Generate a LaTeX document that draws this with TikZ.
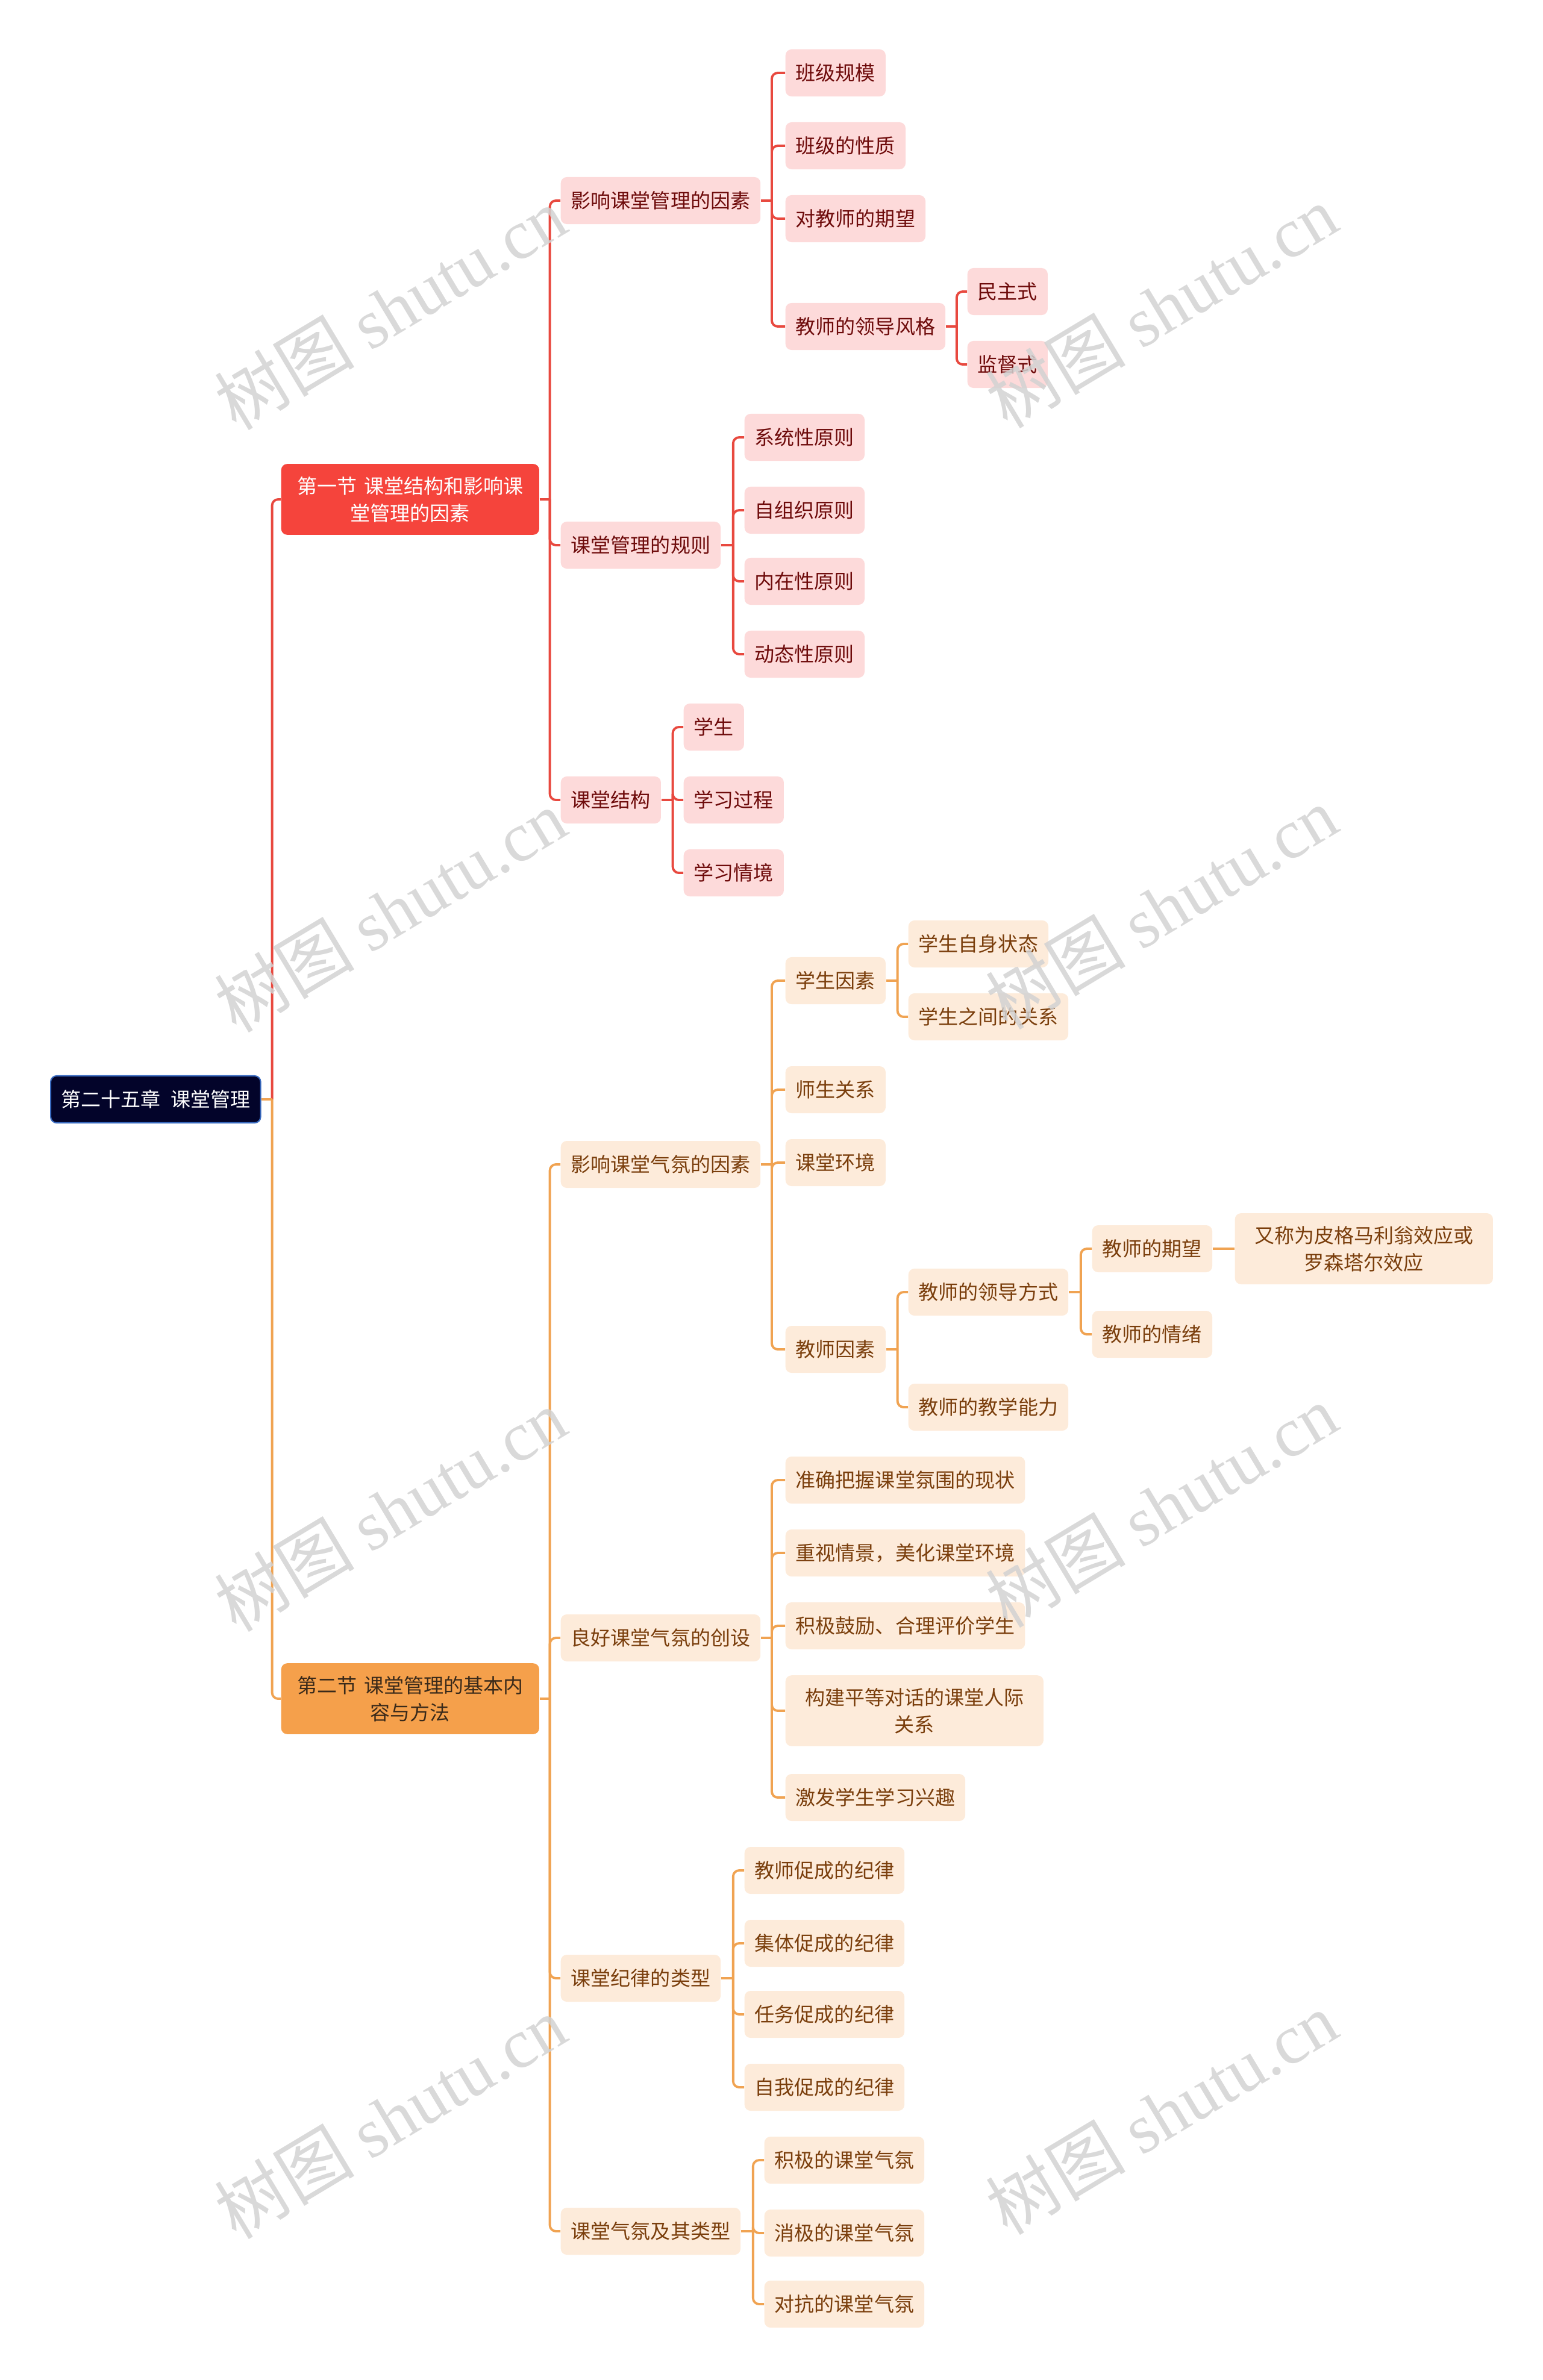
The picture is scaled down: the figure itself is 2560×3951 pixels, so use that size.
\documentclass[tikz,border=0pt]{standalone}
\usepackage{fontspec}
\setmainfont{Noto Sans CJK SC}
\newfontfamily\wmlatin{Liberation Serif}
\definecolor{rootfill}{HTML}{03042A}
\definecolor{rootdraw}{HTML}{3A6CC2}
\definecolor{redsec}{HTML}{F5443C}
\definecolor{redline}{HTML}{E8493F}
\definecolor{redleaf}{HTML}{FDDADA}
\definecolor{redtext}{HTML}{6E0B0B}
\definecolor{orsec}{HTML}{F5A04B}
\definecolor{orline}{HTML}{F0A352}
\definecolor{orleaf}{HTML}{FDEBDA}
\definecolor{ortext}{HTML}{7A3E0C}
\definecolor{sectext}{HTML}{3A2A1A}
\definecolor{wmgrey}{HTML}{D2D2D2}
\tikzset{
  bubble/.style={rounded corners=0.1cm, inner xsep=0.17cm, inner ysep=0.21cm,
    minimum height=0.78cm, anchor=west, font=\fontsize{9.4pt}{12.8pt}\selectfont},
  wrap/.style={text width=3.94cm, align=center},
  rleaf/.style={bubble, fill=redleaf, text=redtext},
  oleaf/.style={bubble, fill=orleaf, text=ortext},
  rootbox/.style={bubble, fill=rootfill, draw=rootdraw, line width=0.6pt, text=white},
  rsec/.style={bubble, wrap, fill=redsec, text=white},
  osec/.style={bubble, wrap, fill=orsec, text=sectext},
  rline/.style={draw=redline, line width=1.1pt, rounded corners=0.1cm},
  oline/.style={draw=orline, line width=1.1pt, rounded corners=0.1cm},
  wmark/.style={text=wmgrey, text opacity=0.85, rotate=31, inner sep=0pt,
    font=\fontsize{33pt}{33pt}\selectfont}
}
\begin{document}
\begin{tikzpicture}[x=0.01cm, y=-0.01cm]
\useasboundingbox (0,0) rectangle (2560,3951);
% root and sections
\node[rootbox] (root) at (83,1825) {第二十五章\hspace{0.17cm}课堂管理};
\node[rsec] (s1) at (466,829) {第一节\hspace{0.12cm}课堂结构和影响课\\堂管理的因素};
\node[osec] (s2) at (466,2820) {第二节\hspace{0.12cm}课堂管理的基本内\\容与方法};
% first section
\node[rleaf] (f1) at (930,333) {影响课堂管理的因素};
\node[rleaf] (f2) at (930,905) {课堂管理的规则};
\node[rleaf] (f3) at (930,1328) {课堂结构};
\node[rleaf] (f1a) at (1303,121) {班级规模};
\node[rleaf] (f1b) at (1303,242) {班级的性质};
\node[rleaf] (f1c) at (1303,363) {对教师的期望};
\node[rleaf] (f1d) at (1303,542) {教师的领导风格};
\node[rleaf] (f1d1) at (1605,484) {民主式};
\node[rleaf] (f1d2) at (1605,605) {监督式};
\node[rleaf] (f2a) at (1235,726) {系统性原则};
\node[rleaf] (f2b) at (1235,847) {自组织原则};
\node[rleaf] (f2c) at (1235,965) {内在性原则};
\node[rleaf] (f2d) at (1235,1086) {动态性原则};
\node[rleaf] (f3a) at (1134,1207) {学生};
\node[rleaf] (f3b) at (1134,1328) {学习过程};
\node[rleaf] (f3c) at (1134,1449) {学习情境};
% second section
\node[oleaf] (g1) at (930,1933) {影响课堂气氛的因素};
\node[oleaf] (g2) at (930,2719) {良好课堂气氛的创设};
\node[oleaf] (g3) at (930,3284) {课堂纪律的类型};
\node[oleaf] (g4) at (930,3704) {课堂气氛及其类型};
\node[oleaf] (g1a) at (1303,1628) {学生因素};
\node[oleaf] (g1a1) at (1507,1567) {学生自身状态};
\node[oleaf] (g1a2) at (1507,1688) {学生之间的关系};
\node[oleaf] (g1b) at (1303,1809) {师生关系};
\node[oleaf] (g1c) at (1303,1930) {课堂环境};
\node[oleaf] (g1d) at (1303,2240) {教师因素};
\node[oleaf] (g1d1) at (1507,2145) {教师的领导方式};
\node[oleaf] (g1d1a) at (1812,2073) {教师的期望};
\node[oleaf, wrap] (g1d1x) at (2049,2073) {又称为皮格马利翁效应或\\罗森塔尔效应};
\node[oleaf] (g1d1b) at (1812,2215) {教师的情绪};
\node[oleaf] (g1d2) at (1507,2336) {教师的教学能力};
\node[oleaf] (g2a) at (1303,2457) {准确把握课堂氛围的现状};
\node[oleaf] (g2b) at (1303,2578) {重视情景，美化课堂环境};
\node[oleaf] (g2c) at (1303,2699) {积极鼓励、合理评价学生};
\node[oleaf, wrap] (g2d) at (1303,2840) {构建平等对话的课堂人际\\关系};
\node[oleaf] (g2e) at (1303,2984) {激发学生学习兴趣};
\node[oleaf] (g3a) at (1235,3105) {教师促成的纪律};
\node[oleaf] (g3b) at (1235,3226) {集体促成的纪律};
\node[oleaf] (g3c) at (1235,3344) {任务促成的纪律};
\node[oleaf] (g3d) at (1235,3465) {自我促成的纪律};
\node[oleaf] (g4a) at (1268,3586) {积极的课堂气氛};
\node[oleaf] (g4b) at (1268,3707) {消极的课堂气氛};
\node[oleaf] (g4c) at (1268,3825) {对抗的课堂气氛};
% connectors, red side
\draw[rline] (root.east) -- ++(18,0) coordinate (rj);
\draw[rline] (rj) |- (s1.west);
\draw[rline] (s1.east) -- ++(17,0) coordinate (s1j);
\draw[rline] (s1j) |- (f1.west);
\draw[rline] (s1j) |- (f2.west);
\draw[rline] (s1j) |- (f3.west);
\draw[rline] (f1.east) -- ++(18,0) coordinate (f1j);
\draw[rline] (f1j) |- (f1a.west);
\draw[rline] (f1j) |- (f1b.west);
\draw[rline] (f1j) |- (f1c.west);
\draw[rline] (f1j) |- (f1d.west);
\draw[rline] (f1d.east) -- ++(18,0) coordinate (f1dj);
\draw[rline] (f1dj) |- (f1d1.west);
\draw[rline] (f1dj) |- (f1d2.west);
\draw[rline] (f2.east) -- ++(20,0) coordinate (f2j);
\draw[rline] (f2j) |- (f2a.west);
\draw[rline] (f2j) |- (f2b.west);
\draw[rline] (f2j) |- (f2c.west);
\draw[rline] (f2j) |- (f2d.west);
\draw[rline] (f3.east) -- ++(19,0) coordinate (f3j);
\draw[rline] (f3j) |- (f3a.west);
\draw[rline] (f3j) |- (f3b.west);
\draw[rline] (f3j) |- (f3c.west);
% connectors, orange side
\draw[oline] (rj) |- (s2.west);
\draw[oline] (root.east) -- (rj);
\draw[oline] (s2.east) -- ++(17,0) coordinate (s2j);
\draw[oline] (s2j) |- (g1.west);
\draw[oline] (s2j) |- (g2.west);
\draw[oline] (s2j) |- (g3.west);
\draw[oline] (s2j) |- (g4.west);
\draw[oline] (g1.east) -- ++(18,0) coordinate (g1j);
\draw[oline] (g1j) |- (g1a.west);
\draw[oline] (g1j) |- (g1b.west);
\draw[oline] (g1j) |- (g1c.west);
\draw[oline] (g1j) |- (g1d.west);
\draw[oline] (g1a.east) -- ++(19,0) coordinate (g1aj);
\draw[oline] (g1aj) |- (g1a1.west);
\draw[oline] (g1aj) |- (g1a2.west);
\draw[oline] (g1d.east) -- ++(19,0) coordinate (g1dj);
\draw[oline] (g1dj) |- (g1d1.west);
\draw[oline] (g1dj) |- (g1d2.west);
\draw[oline] (g1d1.east) -- ++(20,0) coordinate (g1d1j);
\draw[oline] (g1d1j) |- (g1d1a.west);
\draw[oline] (g1d1j) |- (g1d1b.west);
\draw[oline] (g1d1a.east) -- (g1d1x.west);
\draw[oline] (g2.east) -- ++(18,0) coordinate (g2j);
\draw[oline] (g2j) |- (g2a.west);
\draw[oline] (g2j) |- (g2b.west);
\draw[oline] (g2j) |- (g2c.west);
\draw[oline] (g2j) |- (g2d.west);
\draw[oline] (g2j) |- (g2e.west);
\draw[oline] (g3.east) -- ++(20,0) coordinate (g3j);
\draw[oline] (g3j) |- (g3a.west);
\draw[oline] (g3j) |- (g3b.west);
\draw[oline] (g3j) |- (g3c.west);
\draw[oline] (g3j) |- (g3d.west);
\draw[oline] (g4.east) -- ++(20,0) coordinate (g4j);
\draw[oline] (g4j) |- (g4a.west);
\draw[oline] (g4j) |- (g4b.west);
\draw[oline] (g4j) |- (g4c.west);
% watermarks
\node[wmark] (wm1) at (648,512) {树图 {\wmlatin shutu.cn}};
\node[wmark] (wm2) at (1928,509) {树图 {\wmlatin shutu.cn}};
\node[wmark] (wm3) at (648,1512) {树图 {\wmlatin shutu.cn}};
\node[wmark] (wm4) at (1928,1507) {树图 {\wmlatin shutu.cn}};
\node[wmark] (wm5) at (648,2507) {树图 {\wmlatin shutu.cn}};
\node[wmark] (wm6) at (1928,2500) {树图 {\wmlatin shutu.cn}};
\node[wmark] (wm7) at (648,3515) {树图 {\wmlatin shutu.cn}};
\node[wmark] (wm8) at (1928,3508) {树图 {\wmlatin shutu.cn}};
\end{tikzpicture}
\end{document}
